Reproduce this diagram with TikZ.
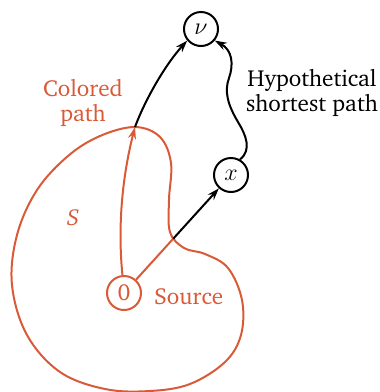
\documentclass[tikz,border=0pt]{standalone}
\usepackage[T1]{fontenc}
\usepackage{charter}
\usetikzlibrary{arrows.meta,calc}
\definecolor{rust}{RGB}{217,90,56}
\begin{document}
\begin{tikzpicture}[x=0.5pt,y=-0.5pt,
  every node/.style={font=\fontsize{11.6}{12.5}\selectfont},
  vert/.style={circle,draw,line width=1pt,minimum size=17pt,inner sep=0pt},
  edge/.style={line width=1pt},
  arr/.style={-{Stealth[length=6pt,width=4pt]}},
  lbl/.style={align=center}]
\useasboundingbox (0,0) rectangle (380,392);
% region S
\draw[rust,edge] plot[smooth cycle,tension=0.6] coordinates {
 (135,127) (160,137) (171,163) (169,200) (170,232) (184,248) (205,254)
 (228,268) (242,300) (241,335) (225,362) (190,384) (150,391) (105,389)
 (60,372) (27,335) (12,285) (17,235) (37,190) (68,156) (100,136)};
% nodes
\node[vert] (v) at (201,29) {$\nu$};
\node[vert] (x) at (231,175) {$x$};
\node[vert,rust] (s) at (124,293) {0};
\coordinate (top) at (135,127);
\coordinate (cross) at ($(s)!0.46!(x)$);
% labels
\node[rust,anchor=west] (src) at (147,297) {Source};
\node[rust] (S) at (73,218) {\itshape S};
\node[rust,lbl] (cp) at (83,103) {Colored\\path};
\node[lbl] (hp) at (312,93) {Hypothetical\\shortest path};
% colored path
\draw[rust,edge,arr] (s.95) .. controls (117,220) and (124,170) .. (top);
\draw[edge,arr] (top) .. controls (145,100) and (165,65) .. (v.220);
% path through x
\draw[rust,edge] (s) -- (cross);
\draw[edge,arr] (cross) -- (x);
% hypothetical shortest path
\draw[edge,arr] (x.60) .. controls (252,150) and (246,135) .. (238,122)
  .. controls (228,105) and (224,92) .. (229,78)
  .. controls (234,64) and (232,50) .. (v.-40);
\end{tikzpicture}
\end{document}
